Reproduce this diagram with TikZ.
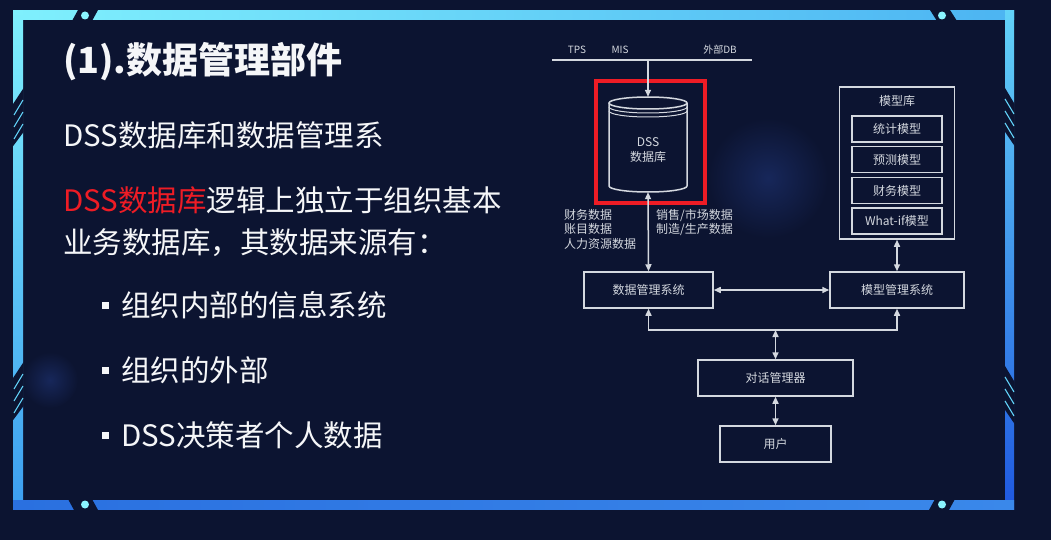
\documentclass[tikz,border=0pt]{standalone}
\usepackage{fontspec}
\setmainfont{Noto Sans CJK SC}
\usetikzlibrary{arrows.meta}
\definecolor{bgnavy}{HTML}{0C1431}
\definecolor{glow}{HTML}{17275A}
\definecolor{cyanA}{HTML}{7FF0FD}
\definecolor{blueT}{HTML}{4CB4F2}
\definecolor{blueL}{HTML}{3C9EF0}
\definecolor{cyanR}{HTML}{62D2F8}
\definecolor{blueR}{HTML}{1F58E0}
\definecolor{blueB}{HTML}{2A70E0}
\definecolor{cyanB}{HTML}{80F8FF}
\definecolor{blueB2}{HTML}{3A88EA}
\definecolor{dotcyan}{HTML}{8AF4FF}
\definecolor{linegray}{HTML}{D4D8DF}
\definecolor{textwhite}{HTML}{F5F6F8}
\definecolor{hired}{HTML}{EE1C25}

\tikzset{
  diag/.style={draw=linegray, line width=1.5pt},
  dtext/.style={text=linegray, inner sep=0pt, font=\fontsize{12}{14.5}\selectfont},
  dbox/.style={diag, dtext, minimum height=36pt},
  mbox/.style={diag, dtext, minimum width=90pt, minimum height=26pt},
  arr/.style={diag, -{Triangle[length=7pt,width=6pt]}},
  darr/.style={diag, {Triangle[length=7pt,width=6pt]}-{Triangle[length=7pt,width=6pt]}},
  body/.style={anchor=west, inner sep=0pt, text=textwhite, font=\fontsize{29.5}{34}\selectfont},
  bul/.style={fill=textwhite, minimum size=7pt, inner sep=0pt},
  hatch/.style={draw=cyanR, line width=1.1pt},
  redbox/.style={draw=hired, line width=3.5pt}
}

\begin{document}
\begin{tikzpicture}[x=1pt,y=-1pt]
\useasboundingbox (0,0) rectangle (1051,540);
\fill[bgnavy] (0,0) rectangle (1051,540);
\shade[inner color=glow, outer color=bgnavy] (768,178) circle (60pt);
\shade[inner color=glow, outer color=bgnavy] (50,380) circle (28pt);

% frame
\shade[left color=cyanA, right color=blueT] (13,11) rectangle (1014,20);
\shade[top color=cyanA, bottom color=blueL] (13,11) rectangle (23,509);
\shade[top color=cyanR, bottom color=blueR] (1005,11) rectangle (1014,509);
\shade[left color=blueB, middle color=cyanB, right color=blueB2] (13,500) rectangle (1014,509);
\foreach \y in {88,362} {
  \fill[bgnavy] (23.6,\y) -- (12.4,\y+17) -- (12.4,\y+59) -- (23.6,\y+44) -- cycle;
  \foreach \h in {12,24,36}
    \draw[hatch] (14,\y+\h+15) -- (23,\y+\h);
}
\foreach \y in {87,365} {
  \fill[bgnavy] (1004.4,\y) -- (1014.6,\y+17) -- (1014.6,\y+59) -- (1004.4,\y+44) -- cycle;
  \foreach \h in {12,24,36}
    \draw[hatch] (1005,\y+\h) -- (1014,\y+\h+15);
}
\fill[bgnavy] (78,10) -- (98,10) -- (92,21) -- (72,21) -- cycle;
\fill[bgnavy] (930,10) -- (950,10) -- (957,21) -- (937,21) -- cycle;
\fill[bgnavy] (68,499) -- (92,499) -- (98,510) -- (74,510) -- cycle;
\fill[bgnavy] (935,499) -- (955,499) -- (949,510) -- (929,510) -- cycle;
\fill[dotcyan] (85,15.5) circle (4pt);
\fill[dotcyan] (942,15.5) circle (4pt);
\fill[dotcyan] (85,504.5) circle (4pt);
\fill[dotcyan] (942,504.5) circle (4pt);

% text
\node[anchor=west, inner sep=0pt, text=textwhite] (title) at (63,62)
  {\fontsize{36}{40}\selectfont\bfseries (1).数据管理部件};
\node[body] (line1) at (63,135) {DSS数据库和数据管理系};
\node[body] (line2) at (63,200) {\textcolor{hired}{DSS数据库}逻辑上独立于组织基本};
\node[body] (line3) at (63,243) {业务数据库，其数据来源有：};
\node[bul] (b1) at (105,305) {};
\node[body] (item1) at (121,305) {组织内部的信息系统};
\node[bul] (b2) at (105,370) {};
\node[body] (item2) at (121,370) {组织的外部};
\node[bul] (b3) at (105,435) {};
\node[body] (item3) at (121,435) {DSS决策者个人数据};

% diagram
\node[dtext, font=\fontsize{10}{12}\selectfont] (tps) at (577,50) {TPS};
\node[dtext, font=\fontsize{10}{12}\selectfont] (mis) at (620,50) {MIS};
\node[dtext, font=\fontsize{10}{12}\selectfont] (extdb) at (720,50) {外部DB};
\coordinate (busl) at (552,60);
\coordinate (busr) at (752,60);
\coordinate (busin) at (648,60);
\draw[diag] (busl) -- (busr);

\node[minimum width=78pt, minimum height=95pt, inner sep=0pt] (db) at (648,144.5) {};
\draw[diag] (648,103) ellipse [x radius=39, y radius=6];
\draw[diag, line width=1pt] (609,107) arc[start angle=180, end angle=0, x radius=39, y radius=6];
\draw[diag, line width=1pt] (609,111) arc[start angle=180, end angle=0, x radius=39, y radius=6];
\draw[diag] (609,103) -- (609,186) arc[start angle=180, end angle=0, x radius=39, y radius=6] -- (687,103);
\node[dtext, align=center] (dbname) at (648,150) {DSS\\数据库};
\draw[redbox] (596,81) rectangle (705,203);

\node[dtext, anchor=north west, align=left] (srcl) at (564,209) {财务数据\\账目数据\\人力资源数据};
\node[dtext, anchor=north west, align=left] (srcr) at (656,209) {销售/市场数据\\制造/生产数据};

\node[dbox, minimum width=129pt] (dms) at (648.5,290) {数据管理系统};
\node[dbox, minimum width=134pt] (mms) at (897,290) {模型管理系统};
\node[dbox, minimum width=155pt] (dlg) at (775.5,378) {对话管理器};
\node[dbox, minimum width=111pt] (user) at (775.5,444) {用户};

\node[dbox, minimum width=115pt, minimum height=152pt] (lib) at (897,163) {};
\node[dtext] (libname) at (897,101) {模型库};
\node[mbox] (stat) at (897,129) {统计模型};
\node[mbox] (pred) at (897,159.5) {预测模型};
\node[mbox] (fin) at (897,190.5) {财务模型};
\node[mbox] (whatif) at (897,221) {What-if模型};

\coordinate (dlgbus) at (775.5,330);
\draw[arr] (busin) -- (db.north);
\draw[darr] (db.south) -- (dms.north);
\draw[darr] (dms) -- (mms);
\draw[darr] (lib.south) -- (mms.north);
\draw[arr] (dlgbus) -| (dms.south);
\draw[arr] (dlgbus) -| (mms.south);
\draw[darr] (dlgbus) -- (dlg.north);
\draw[darr] (dlg) -- (user);
\end{tikzpicture}
\end{document}
